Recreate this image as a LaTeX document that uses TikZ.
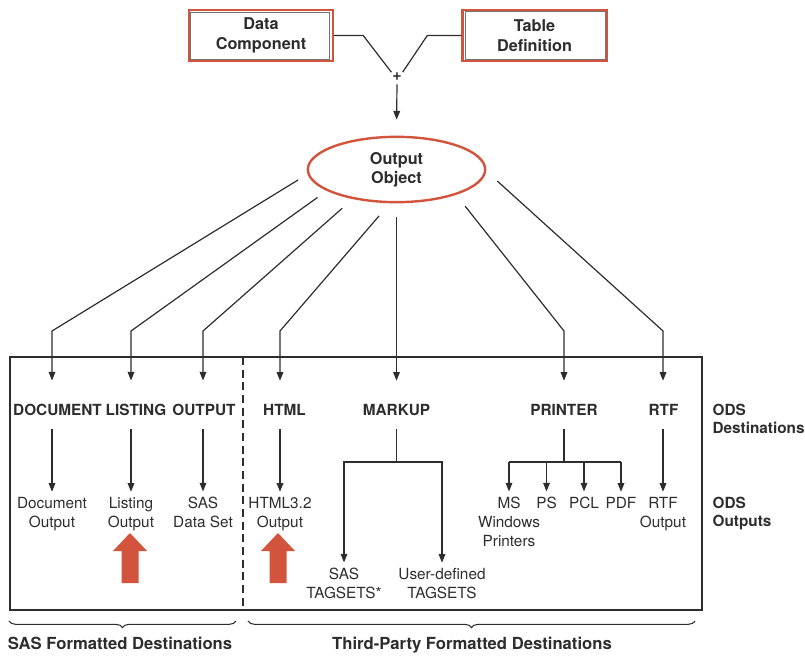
\documentclass[tikz,border=0pt]{standalone}
\usepackage{fontspec}
\setmainfont{TeX Gyre Heros}
\usetikzlibrary{arrows.meta,shapes.geometric,decorations.pathreplacing}
\definecolor{sasred}{RGB}{211,84,60}
\definecolor{inkgray}{RGB}{45,45,45}

\tikzset{
  wire/.style={draw=inkgray, line width=0.9pt},
  link/.style={wire, -{Triangle[length=6.5pt,width=5pt]}},
  srcbox/.style={draw=sasred, line width=1.8pt, minimum width=108pt, minimum height=38pt, align=center, text=inkgray, font=\bfseries\fontsize{12.2}{14.5}\selectfont},
  dest/.style={font=\bfseries\fontsize{11.5}{13.5}\selectfont, text=inkgray, inner sep=1pt, anchor=base},
  outp/.style={font=\fontsize{11.5}{14.25}\selectfont, text=inkgray, inner sep=1pt, align=center, anchor=base},
  side/.style={dest, align=left, anchor=base west},
  grp/.style={font=\bfseries\fontsize{12.5}{14}\selectfont, text=inkgray, anchor=base},
  grpbrace/.style={draw=inkgray, line width=0.8pt, decorate, decoration={brace, mirror, amplitude=5pt}}
}

\begin{document}
\begin{tikzpicture}[x=0.75pt, y=-0.75pt]
   \useasboundingbox (0,0) rectangle (805,656);

   % sources and the output object
   \node[srcbox] (dc) at (261,35.5) {Data\\Component};
   \node[srcbox] (td) at (534.5,35.5) {Table\\Definition};
   \draw[black!55, line width=0.6pt] ([xshift=2.1pt,yshift=-2.4pt]dc.north west) rectangle ([xshift=-3.8pt,yshift=2.1pt]dc.south east);
   \draw[black!55, line width=0.6pt] ([xshift=3.2pt,yshift=-2.1pt]td.north west) rectangle ([xshift=-2.1pt,yshift=2.1pt]td.south east);
   \node[inner sep=0.5pt, text=inkgray, font=\bfseries\fontsize{12}{12}\selectfont] (plus) at (397,77) {+};
   \draw[wire] (dc.east) -- ++(29,0) -- (plus.north west);
   \draw[wire] (td.west) -- ++(-34,0) -- (plus.north east);

   \node[ellipse, draw=sasred, line width=1.8pt, minimum width=133pt, minimum height=49pt, inner sep=0pt, align=center, text=inkgray, font=\bfseries\fontsize{12.2}{14.5}\selectfont] (eo) at (396.5,169.5) {Output\\Object};
   \draw[link, shorten <=2pt, shorten >=12pt] (plus.south) -- (eo.north);

   % destinations
   \coordinate (knee) at (0,331);
   \coordinate (fork) at (0,462);
   \node[dest] (doc) at (57.5,415.5) {DOCUMENT};
   \node[dest] (lst) at (136,415.5) {LISTING};
   \node[dest] (outp) at (204,415.5) {OUTPUT};
   \node[dest] (html) at (284.5,415.5) {HTML};
   \node[dest] (markup) at (396.5,415.5) {MARKUP};
   \node[dest] (printer) at (564,415.5) {PRINTER};
   \node[dest] (rtf) at (663.5,415.5) {RTF};

   % outputs (base = last line)
   \node[outp] (docout) at (52,527.5) {Document\\Output};
   \node[outp] (lstout) at (131,527.5) {Listing\\Output};
   \node[outp] (sasds) at (203,527.5) {SAS\\Data Set};
   \node[outp] (htmlout) at (280,527.5) {HTML3.2\\Output};
   \node[outp] (sastags) at (344,598.5) {SAS\\TAGSETS*};
   \node[outp] (usertags) at (442,598.5) {User-defined\\TAGSETS};
   \node[outp] (msout) at (509,546.5) {MS\\Windows\\Printers};
   \node[outp] (psout) at (546.5,508.5) {PS};
   \node[outp] (pclout) at (584,508.5) {PCL};
   \node[outp] (pdfout) at (621,508.5) {PDF};
   \node[outp] (rtfout) at (663,527.5) {RTF\\Output};

   \node[side] (odsdest) at (711,433.5) {ODS\\Destinations};
   \node[side] (odsout) at (711,526.5) {ODS\\Outputs};

   % object to destinations
   \draw[link, shorten <=8.2pt, shorten >=16.5pt] (eo.183) -- (docout |- knee) -- (docout |- doc.north);
   \draw[link, shorten <=8.5pt, shorten >=16.5pt] (eo.197) -- (lstout |- knee) -- (lstout |- lst.north);
   \draw[link, shorten <=10.5pt, shorten >=16.5pt] (eo.214) -- (sasds |- knee) -- (sasds |- outp.north);
   \draw[link, shorten <=12.5pt, shorten >=16.5pt] (eo.259) -- (htmlout |- knee) -- (htmlout |- html.north);
   \draw[link, shorten <=10.5pt, shorten >=16.5pt] (eo.south) -- (markup.north);
   \draw[link, shorten <=10.9pt, shorten >=16.5pt] (eo.337) -- (printer |- knee) -- (printer.north);
   \draw[link, shorten <=11.2pt, shorten >=16.5pt] (eo.359) -- (rtfout |- knee) -- (rtfout |- rtf.north);

   % destinations to outputs
   \draw[link, shorten <=9pt, shorten >=3pt] (docout |- doc.south) -- (docout.north);
   \draw[link, shorten <=9pt, shorten >=3pt] (lstout |- lst.south) -- (lstout.north);
   \draw[link, shorten <=9pt, shorten >=3pt] (sasds |- outp.south) -- (sasds.north);
   \draw[link, shorten <=9pt, shorten >=3pt] (htmlout |- html.south) -- (htmlout.north);
   \draw[link, shorten <=9pt, shorten >=3pt] (rtfout |- rtf.south) -- (rtfout.north);

   \draw[wire, shorten <=9pt] (markup.south) -- (markup |- fork);
   \draw[link, shorten >=3pt] (markup |- fork) -- (sastags |- fork) -- (sastags.north);
   \draw[link, shorten >=3pt] (markup |- fork) -- (usertags |- fork) -- (usertags.north);

   \draw[wire, shorten <=9pt] (printer.south) -- (printer |- fork);
   \draw[wire] (msout |- fork) -- (pdfout |- fork);
   \foreach \o in {msout,psout,pclout,pdfout}
      \draw[link, shorten >=3pt] (\o |- fork) -- (\o.north);

   % red markers
   \foreach \x in {130,278}
      \fill[sasred, shift={(\x,0)}] (-8.5,583) -- (-8.5,551) -- (-17,551) -- (0,533) -- (17,551) -- (8.5,551) -- (8.5,583) -- cycle;

   % frame and groups
   \draw[wire] (10,357) rectangle (702,610);
   \draw[wire, dash pattern=on 6pt off 3.5pt] (243,357) -- (243,610);
   \draw[grpbrace] (9,621) -- (236,621);
   \draw[grpbrace] (248,621) -- (695,621);
   \node[grp] (sasgrp) at (120,649) {SAS Formatted Destinations};
   \node[grp] (thirdgrp) at (472,649) {Third-Party Formatted Destinations};
\end{tikzpicture}
\end{document}
